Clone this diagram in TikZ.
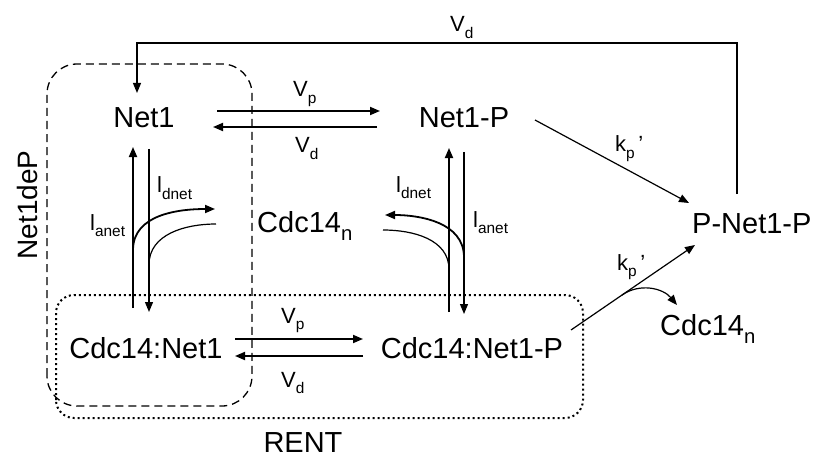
\documentclass[tikz,border=0pt]{standalone}
\usepackage{fontspec}
\setmainfont{Liberation Sans}
\usepackage{tikz}
\usetikzlibrary{calc,arrows.meta}
\definecolor{Ink}{HTML}{000000}
\newcommand{\lowsub}[1]{\raisebox{-0.3em}{\scalebox{0.7}{#1}}}
\tikzset{
	species/.style={font=\fontsize{29}{34}\selectfont, inner sep=0pt, text=Ink},
	rate/.style={font=\fontsize{22}{26}\selectfont, inner sep=0pt, anchor=base west, text=Ink},
	fat/.style={draw=Ink, line width=1.8pt},
	slim/.style={draw=Ink, line width=1.2pt},
	tip/.style={-{Triangle[length=10pt,width=8pt]}}
}

\begin{document}
\begin{tikzpicture}[x=1pt,y=1pt]
			\useasboundingbox (0,0) rectangle (823,459);
			
			\draw[Ink, line width=1.3pt, dash pattern=on 8pt off 5pt, rounded corners=30pt] (47,53) rectangle (252,395);
			\draw[Ink, line width=2pt, dash pattern=on 2pt off 3pt, rounded corners=18pt] (56,41) rectangle (583,164);
			
			\node[species, anchor=base] (Net1) at (144,331) {Net1};
			\node[species, anchor=base] (Net1P) at (464,331) {Net1-P};
			\node[species, anchor=base west] (CdcN) at (257,227) {Cdc14\lowsub{n}};
			\node[species, anchor=base west] (PNet1P) at (692,226) {P-Net1-P};
			\node[species, anchor=base] (CdcNet1) at (146,101) {Cdc14:Net1};
			\node[species, anchor=base] (CdcNet1P) at (472,101) {Cdc14:Net1-P};
			\node[species, anchor=base west] (CdcNout) at (660,124) {Cdc14\lowsub{n}};
			\node[species, font=\fontsize{28}{32}\selectfont, rotate=90] (Net1deP) at (27,254) {Net1deP};
			\node[species, anchor=base] (RENT) at (303,7) {RENT};
			
			\node[rate] (VpTop) at (293,362) {V\lowsub{p}};
			\node[rate] (VdTop) at (295,306) {V\lowsub{d}};
			\node[rate] (VdBack) at (450,427) {V\lowsub{d}};
			\node[rate] (KpTop) at (615,307) {k\lowsub{p}\,'};
			\node[rate] (KpLow) at (617,189) {k\lowsub{p}\,'};
			\node[rate] (VpLow) at (281,136) {V\lowsub{p}};
			\node[rate] (VdLow) at (281,72) {V\lowsub{d}};
			\node[rate] (LaL) at (90,229) {l\lowsub{anet}};
			\node[rate] (LdL) at (157,266) {l\lowsub{dnet}};
			\node[rate] (LdR) at (396,267) {l\lowsub{dnet}};
			\node[rate] (LaR) at (473,232) {l\lowsub{anet}};
			
			\draw[fat,tip] ($(Net1.base)+(73,17)$) -- ($(Net1P.base)+(-84,17)$);
			\draw[fat,tip] ($(Net1P.base)+(-87,1)$) -- ($(Net1.base)+(69,1)$);
			\draw[fat,tip] ($(CdcNet1.base)+(89,19)$) -- ($(CdcNet1P.base)+(-109,19)$);
			\draw[fat,tip] ($(CdcNet1P.base)+(-109,2)$) -- ($(CdcNet1.base)+(89,2)$);
			
			\draw[fat,tip] ($(CdcNet1.base)+(-13,50)$) -- coordinate[pos=0.36] (upL) ($(Net1.base)+(-11,-19)$);
			\draw[slim,tip] ($(Net1.base)+(5,-21)$) -- coordinate[pos=0.71] (dnL) ($(CdcNet1.base)+(3,46)$);
			\draw[fat,tip] ($(CdcNet1P.base)+(-23,46)$) -- coordinate[pos=0.26] (upR) ($(Net1P.base)+(-15,-20)$);
			\draw[slim,tip] ($(Net1P.base)+(0,-24)$) -- coordinate[pos=0.65] (dnR) ($(CdcNet1P.base)+(-8,44)$);
			
			\draw[fat,tip] (upL) to[out=90,in=180] ($(CdcN.base west)+(-42,23)$);
			\draw[slim] (dnL) to[out=90,in=180] ($(CdcN.base west)+(-41,8)$);
			\draw[fat,tip] (dnR) to[out=90,in=0] ($(CdcN.base west)+(128,17)$);
			\draw[slim] (upR) to[out=90,in=0] ($(CdcN.base west)+(126,2)$);
			
			\draw[slim,tip] ($(Net1P.base)+(71,8)$) -- ($(PNet1P.base west)+(-3,30)$);
			\draw[slim,tip] ($(CdcNet1P.base)+(99,28)$) -- coordinate[pos=0.41] (brk) ($(PNet1P.base west)+(3,-12)$);
			\draw[slim,tip] (brk) to[out=35,in=130] ($(CdcNout.base west)+(17,30)$);
			\draw[slim,tip] ($(PNet1P.base west)+(45,39)$) -- ++(0,151) -| ($(Net1.base)+(-7,35)$);
		\end{tikzpicture}
\end{document}
